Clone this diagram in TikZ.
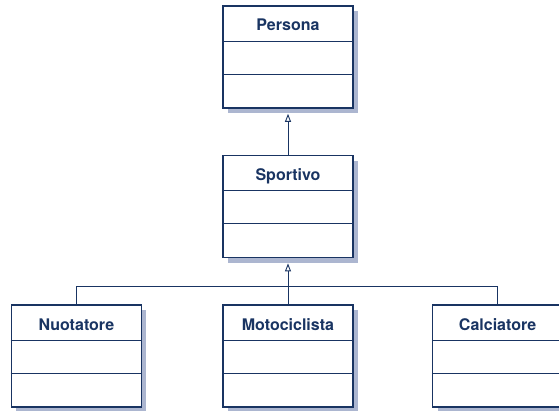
\documentclass[tikz,border=0pt]{standalone}
\usepackage{fontspec}
\setmainfont{TeX Gyre Heros}
\usepackage{tikz}
\usetikzlibrary{positioning, arrows.meta, shadows}
\definecolor{blunotte}{RGB}{25,52,98}
\definecolor{ombra}{RGB}{172,182,208}

\tikzset{
  classe/.style={draw=blunotte, line width=1.6pt, fill=white, text=blunotte,
    font=\fontsize{16}{16}\selectfont\bfseries,
    minimum width=130pt, inner xsep=0pt, inner ysep=0pt,
    text height=25pt, text depth=77pt,
    drop shadow={shadow xshift=5pt, shadow yshift=-5pt, fill=ombra, opacity=1}},
  divisore/.style={draw=blunotte, line width=0.9pt},
  legame/.style={draw=blunotte, line width=0.9pt},
  generalizza/.style={legame, -{Triangle[open, width=6pt, length=8pt]}, shorten >=5pt}
}

\begin{document}
\begin{tikzpicture}[x=1pt, y=-1pt, node distance=46pt]
	\useasboundingbox (0,0) rectangle (559,411);

	\node[classe] (persona) at (288,57) {Persona};
	\node[classe, below=of persona] (sportivo) {Sportivo};
	\node[classe, below=of sportivo] (moto) {Motociclista};
	\node[classe, left=80pt of moto] (nuotatore) {Nuotatore};
	\node[classe, right=78pt of moto] (calcio) {Calciatore};

	% compartimenti
	\foreach \n in {persona, sportivo, moto, nuotatore, calcio} {
		\draw[divisore] ([yshift=-36pt]\n.north west) -- ([yshift=-36pt]\n.north east);
		\draw[divisore] ([yshift=-69pt]\n.north west) -- ([yshift=-69pt]\n.north east);
	}

	\coordinate (snodo) at ([yshift=18pt]moto.north);

	\draw[generalizza] (sportivo.north) -- (persona.south);
	\draw[generalizza] (moto.north) -- (sportivo.south);
	\draw[legame] (nuotatore.north) |- (snodo) -| (calcio.north);
\end{tikzpicture}
\end{document}
